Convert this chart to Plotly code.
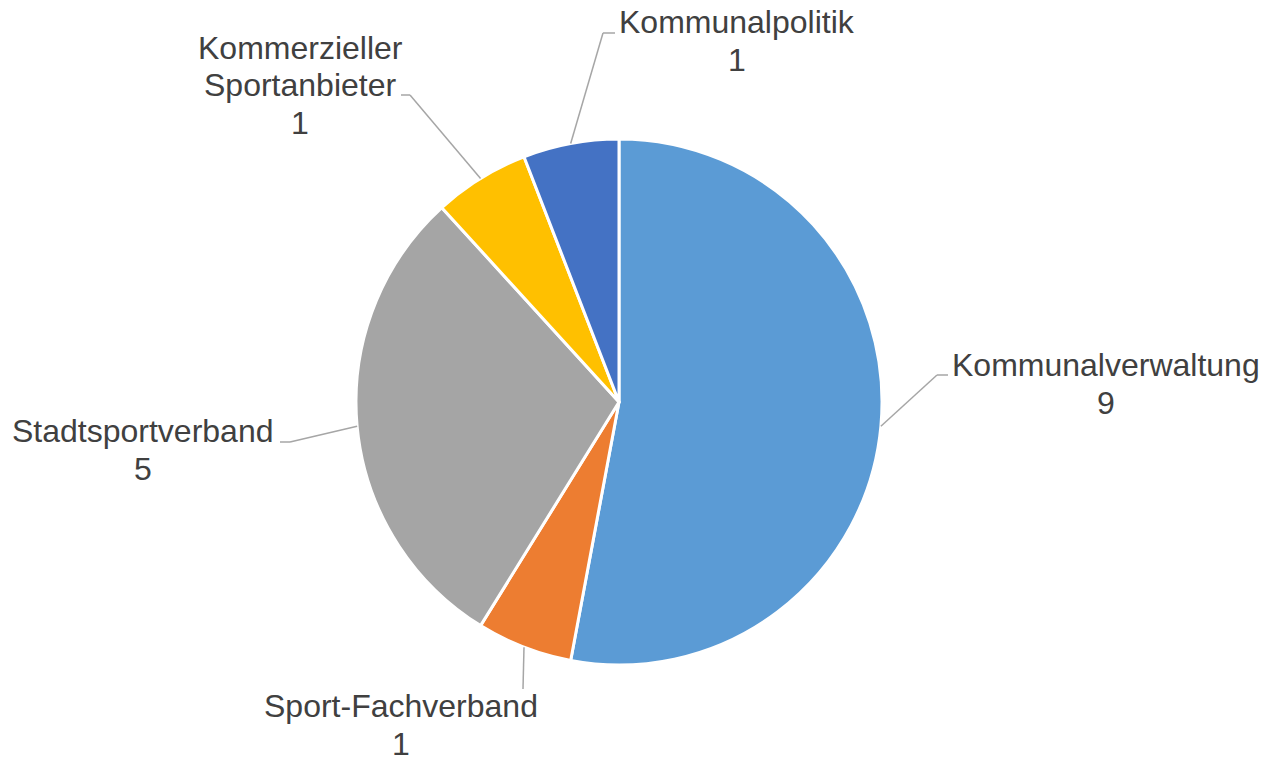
import math
import plotly.graph_objects as go

# ---- data ----
categories = ["Kommunalverwaltung", "Sport-Fachverband", "Stadtsportverband",
              "Kommerzieller<br>Sportanbieter", "Kommunalpolitik"]
values = [9, 1, 5, 1, 1]
colors = ["#5B9BD5", "#ED7D31", "#A5A5A5", "#FFC000", "#4472C4"]

# ---- layout constants (pixels) ----
W, H = 1266, 759
CX, CY, R = 619, 402, 263
LINE_H = 37.5
# label centres and leader-line elbow/end points (pixels)
label_pos = [(1106, 384), (401, 725), (143, 450), (300, 85), (737, 41)]
elbows = [[(937, 375), (948, 375)],
          [(523, 689)],
          [(290, 442), (280, 442)],
          [(410, 95), (401, 95)],
          [(603, 33), (615, 33)]]

def px(x):
    return x / W

def py(y):
    return 1 - y / H

fig = go.Figure(go.Pie(
    labels=categories,
    values=values,
    sort=False,
    direction="clockwise",
    rotation=0,
    marker=dict(colors=colors, line=dict(color="white", width=3)),
    textinfo="none",
    hoverinfo="skip",
    showlegend=False,
    domain=dict(x=[px(CX - R), px(CX + R)], y=[py(CY + R), py(CY - R)]),
))

total = sum(values)
cum = 0
annotations = []
shapes = []
for i, v in enumerate(values):
    mid = (cum + v / 2) / total * 2 * math.pi
    cum += v
    ax = CX + R * math.sin(mid)
    ay = CY - R * math.cos(mid)
    pts = [(ax, ay)] + elbows[i]
    for (x0, y0), (x1, y1) in zip(pts[:-1], pts[1:]):
        shapes.append(dict(type="line", xref="paper", yref="paper",
                           x0=px(x0), y0=py(y0), x1=px(x1), y1=py(y1),
                           line=dict(color="#A6A6A6", width=1.5)))
    lx, ly = label_pos[i]
    lines = categories[i].split("<br>") + [str(v)]
    n = len(lines)
    for k, t in enumerate(lines):
        yk = ly + (k - (n - 1) / 2) * LINE_H
        annotations.append(dict(
            x=px(lx), y=py(yk), xref="paper", yref="paper",
            text=t, showarrow=False,
            xanchor="center", yanchor="middle", align="center",
            font=dict(family="Liberation Sans, Arial, sans-serif", size=32, color="#404040"),
        ))

fig.update_layout(
    width=W, height=H,
    margin=dict(l=0, r=0, t=0, b=0),
    paper_bgcolor="white", plot_bgcolor="white",
    annotations=annotations, shapes=shapes,
)

fig.write_html("out.html", config={"displayModeBar": False},
               post_script="document.body.style.margin='0';")
